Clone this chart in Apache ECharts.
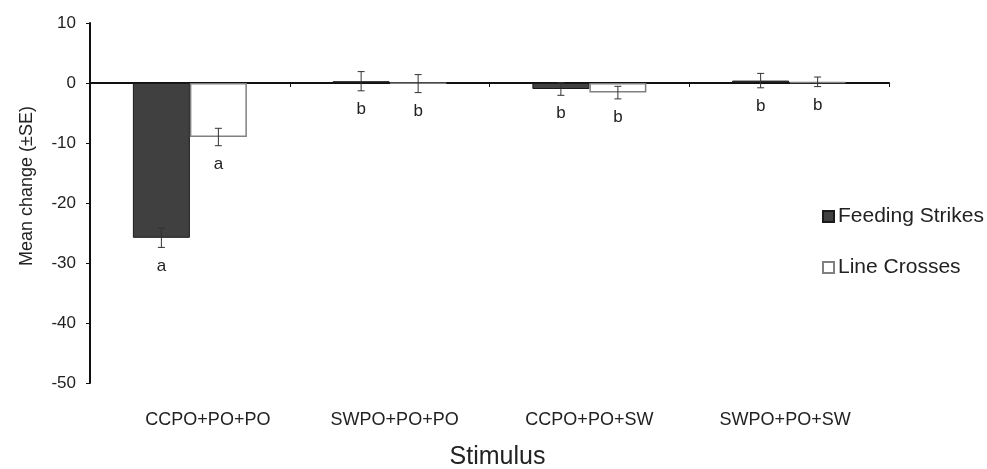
<!DOCTYPE html>
<html>
<head>
<meta charset="utf-8">
<script src="https://cdn.jsdelivr.net/npm/echarts@6/dist/echarts.min.js"></script>
<style>
  html, body { margin: 0; padding: 0; background: #fff; }
  #chart { width: 987px; height: 469px; }
</style>
</head>
<body>
<div id="chart"></div>
<script>
// data
const categories = ['CCPO+PO+PO', 'SWPO+PO+PO', 'CCPO+PO+SW', 'SWPO+PO+SW']
const feedingStrikes = [-25.8, 0.3, -1.0, 0.4]
const feedingStrikesSE = [1.6, 1.6, 1.05, 1.2]
const feedingStrikesLetters = ['a', 'b', 'b', 'b']
const lineCrosses = [-9.0, -0.1, -1.6, 0.2]
const lineCrossesSE = [1.45, 1.5, 1.05, 0.8]
const lineCrossesLetters = ['a', 'b', 'b', 'b']
const yTicks = { min: -50, max: 10, interval: 10 }

const FONT = '"Liberation Sans", Arial, Helvetica, sans-serif'
const BAR_W = 57
// the original figure's category labels are not quite centred
const labelShift = [36, 10, 0, -8]

function errorSeries (values, errs, letters, offset) {
  return {
    type: 'custom',
    xAxisIndex: 0,
    z: 10,
    silent: true,
    data: values.map((v, i) => [i, v, errs[i]]),
    encode: { x: 0, y: 1 },
    renderItem (params, api) {
      const cat = api.value(0)
      const val = api.value(1)
      const se = api.value(2)
      const top = api.coord([cat, val + se])
      const bot = api.coord([cat, val - se])
      const x = top[0] + offset
      const cap = 3.5
      const st = { stroke: '#333', lineWidth: 1 }
      return {
        type: 'group',
        children: [
          { type: 'line', shape: { x1: x, y1: top[1], x2: x, y2: bot[1] }, style: st },
          { type: 'line', shape: { x1: x - cap, y1: top[1], x2: x + cap, y2: top[1] }, style: st },
          { type: 'line', shape: { x1: x - cap, y1: bot[1], x2: x + cap, y2: bot[1] }, style: st },
          {
            type: 'text',
            style: {
              text: letters[params.dataIndex],
              x: x,
              y: bot[1] + 10,
              align: 'center',
              verticalAlign: 'top',
              fontSize: 17,
              fontFamily: FONT,
              fill: '#222'
            }
          }
        ]
      }
    }
  }
}

const chart = echarts.init(document.getElementById('chart'))
const option = {
  backgroundColor: '#fff',
  animation: false,
  textStyle: { fontFamily: FONT, color: '#222' },
  grid: { left: 90, right: 98, top: 23, bottom: 86, containLabel: false, outerBoundsMode: 'none' },
  legend: {
    data: ['Feeding Strikes', 'Line Crosses'],
    orient: 'vertical',
    left: 822,
    top: 206,
    padding: 0,
    icon: 'rect',
    itemWidth: 11,
    itemHeight: 11,
    itemGap: 30,
    textStyle: { fontSize: 21, fontFamily: FONT, color: '#222', padding: [0, 0, 0, -1] }
  },
  graphic: [{
    type: 'text',
    x: 27,
    y: 186,
    rotation: Math.PI / 2,
    style: {
      text: 'Mean change (±SE)',
      align: 'center',
      verticalAlign: 'middle',
      fontSize: 18,
      fontFamily: FONT,
      fill: '#222'
    }
  }],
  xAxis: [{
    type: 'category',
    data: categories,
    axisLine: { onZero: true, lineStyle: { color: '#111', width: 2 } },
    axisTick: { show: true, length: 4, lineStyle: { color: '#111' } },
    axisLabel: { show: false },
    splitLine: { show: false }
  }, {
    type: 'category',
    data: categories.map((c, i) => ({
      value: c,
      textStyle: { padding: labelShift[i] > 0 ? [0, 0, 0, labelShift[i]] : [0, -labelShift[i], 0, 0] }
    })),
    position: 'bottom',
    axisLine: { show: false, onZero: false },
    axisTick: { show: false },
    axisLabel: { fontSize: 18, color: '#222', margin: 28, fontFamily: FONT },
    name: 'Stimulus',
    nameLocation: 'middle',
    nameGap: 62,
    nameTextStyle: { fontSize: 25, color: '#222', fontFamily: FONT, verticalAlign: 'top', padding: [0, 0, 0, 16] }
  }],
  yAxis: {
    type: 'value',
    min: yTicks.min,
    max: yTicks.max,
    interval: yTicks.interval,
    axisLine: { show: true, lineStyle: { color: '#111', width: 2 } },
    axisTick: { show: true, length: 4, lineStyle: { color: '#111' } },
    axisLabel: { fontSize: 17, color: '#222', margin: 14, fontFamily: FONT },
    splitLine: { show: false }
  },
  series: [{
    name: 'Feeding Strikes',
    type: 'bar',
    xAxisIndex: 0,
    data: feedingStrikes,
    barWidth: BAR_W,
    barGap: '0%',
    itemStyle: { color: '#404040', borderColor: '#1a1a1a', borderWidth: 1 }
  }, {
    name: 'Line Crosses',
    type: 'bar',
    xAxisIndex: 0,
    data: lineCrosses,
    barWidth: BAR_W,
    barGap: '0%',
    itemStyle: { color: '#fff', borderColor: '#808080', borderWidth: 1.5 }
  },
  errorSeries(feedingStrikes, feedingStrikesSE, feedingStrikesLetters, -BAR_W / 2),
  errorSeries(lineCrosses, lineCrossesSE, lineCrossesLetters, BAR_W / 2)
  ]
}
chart.setOption(option)
</script>
</body>
</html>
